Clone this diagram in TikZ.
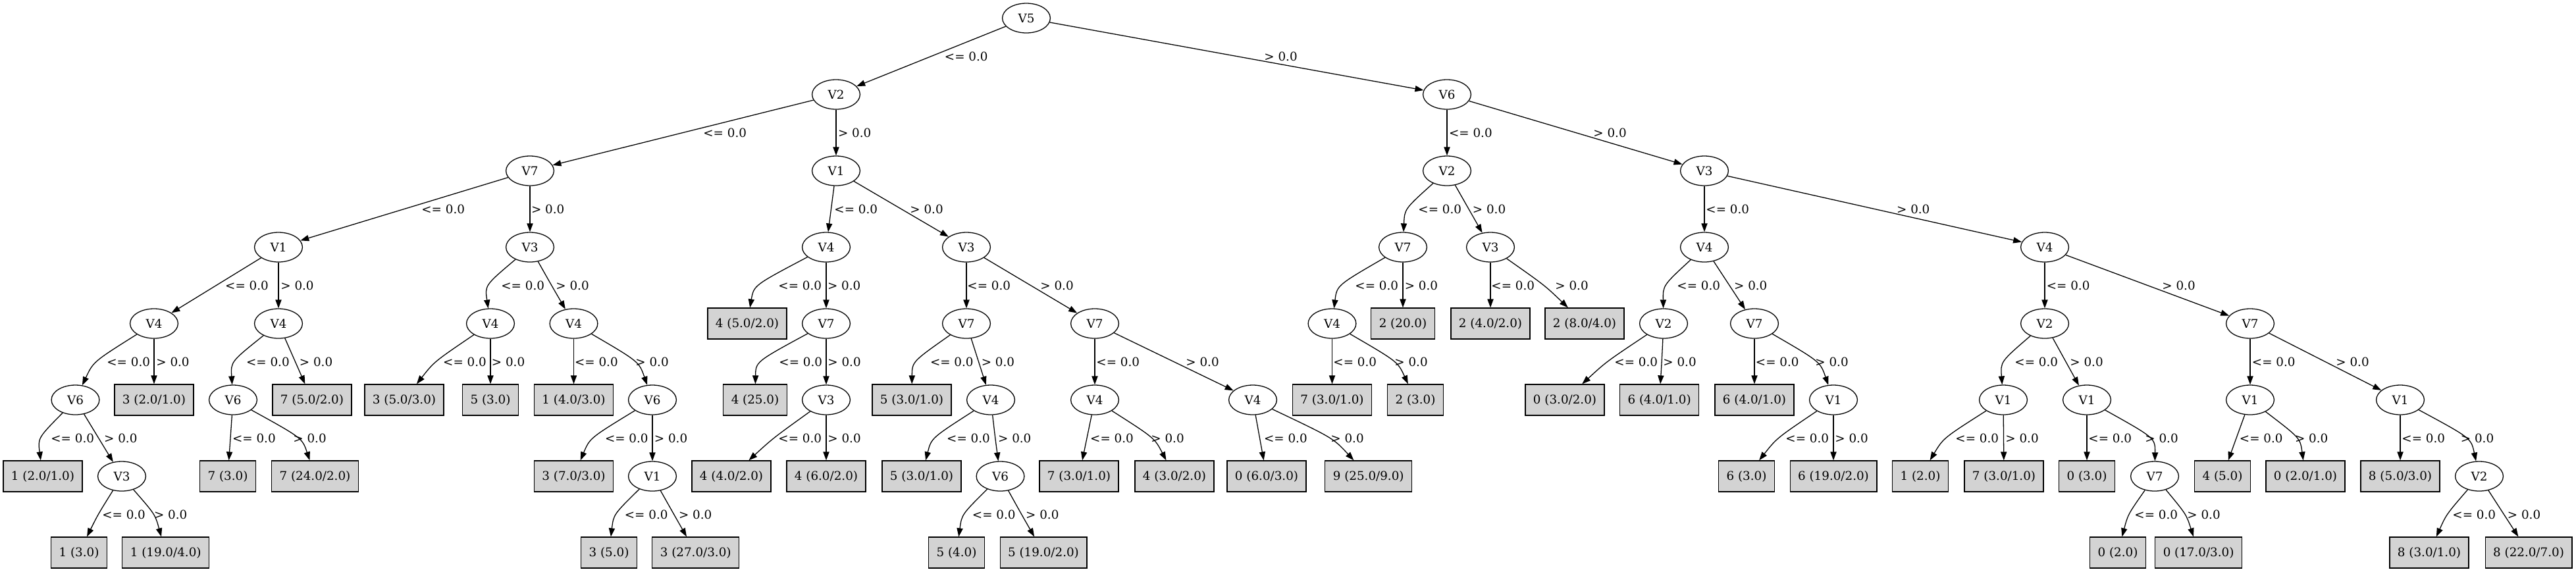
\documentclass[tikz,border=0pt]{standalone}
\usepackage{fontspec}
\setmainfont{DejaVu Serif}
\usetikzlibrary{arrows.meta,calc,shapes}
\definecolor{leafgray}{RGB}{211,211,211}
\tikzstyle{test}=[ellipse,draw=black,fill=white,line width=0.64pt,minimum width=36.4pt,minimum height=22.5pt,inner sep=0pt]
\tikzstyle{leaf}=[rectangle,draw=black,fill=leafgray,line width=0.64pt,minimum height=23.5pt,inner xsep=6pt,inner ysep=0pt]
\tikzstyle{branch}=[draw,line width=0.64pt,-{Triangle[length=6.5pt,width=4.6pt]}]
\tikzstyle{cond}=[anchor=west,inner sep=0pt]

\begin{document}
\begin{tikzpicture}[x=0.5pt,y=-58pt,font=\fontsize{9.15}{11}\selectfont]
    \useasboundingbox (0,-0.2371) rectangle (3913,7.2716);

    % attribute tests
    \foreach \pos/\name/\label in {{(1559,0)/root/V5}, {(1270,1)/L/V2}, {(2198,1)/R/V6},
        {(805,2)/LL/V7}, {(1270,2)/LR/V1}, {(2198,2)/RL/V2}, {(2589,2)/RR/V3},
        {(423,3)/LLL/V1}, {(805,3)/LLR/V3}, {(1255,3)/LRL/V4}, {(1468,3)/LRR/V3}, {(2131,3)/RLL/V7}, {(2264,3)/RLR/V3}, {(2589,3)/RRL/V4}, {(3106,3)/RRR/V4},
        {(234,4)/LLLL/V4}, {(423,4)/LLLR/V4}, {(745,4)/LLRL/V4}, {(871.5,4)/LLRR/V4}, {(1255,4)/LRLR/V7}, {(1468,4)/LRRL/V7}, {(1663,4)/LRRR/V7}, {(2023.5,4)/RLLL/V4}, {(2527,4)/RRLL/V2}, {(2665,4)/RRLR/V7}, {(3106,4)/RRRL/V2}, {(3418,4)/RRRR/V7},
        {(114.5,5)/LLLLL/V6}, {(354,5)/LLLRL/V6}, {(991,5)/LLRRR/V6}, {(1255,5)/LRLRR/V3}, {(1505,5)/LRRLR/V4}, {(1663,5)/LRRRL/V4}, {(1903,5)/LRRRR/V4}, {(2785,5)/RRLRR/V1}, {(3043,5)/RRRLL/V1}, {(3170,5)/RRRLR/V1}, {(3418,5)/RRRRL/V1}, {(3646,5)/RRRRR/V1},
        {(185,6)/LLLLLR/V3}, {(991,6)/LLRRRR/V1}, {(1519.5,6)/LRRLRR/V6}, {(3273,6)/RRRLRR/V7}, {(3766,6)/RRRRRR/V2}}
        \node[test] (\name) at \pos {\label};

    % class leaves
    \foreach \pos/\name/\label in {{(1135,4)/LRLL/{4 (5.0/2.0)}}, {(2131,4)/RLLR/{2 (20.0)}}, {(2264,4)/RLRL/{2 (4.0/2.0)}}, {(2407,4)/RLRR/{2 (8.0/4.0)}},
        {(234,5)/LLLLR/{3 (2.0/1.0)}}, {(474,5)/LLLRR/{7 (5.0/2.0)}}, {(614,5)/LLRLL/{3 (5.0/3.0)}}, {(745,5)/LLRLR/{5 (3.0)}}, {(871.5,5)/LLRRL/{1 (4.0/3.0)}}, {(1147,5)/LRLRL/{4 (25.0)}}, {(1385,5)/LRRLL/{5 (3.0/1.0)}}, {(2023.5,5)/RLLLL/{7 (3.0/1.0)}}, {(2150,5)/RLLLR/{2 (3.0)}}, {(2377,5)/RRLLL/{0 (3.0/2.0)}}, {(2520.6,5)/RRLLR/{6 (4.0/1.0)}}, {(2665,5)/RRLRL/{6 (4.0/1.0)}},
        {(65,6)/LLLLLL/{1 (2.0/1.0)}}, {(346,6)/LLLRLL/{7 (3.0)}}, {(478.5,6)/LLLRLR/{7 (24.0/2.0)}}, {(871.5,6)/LLRRRL/{3 (7.0/3.0)}}, {(1111,6)/LRLRRL/{4 (4.0/2.0)}}, {(1255,6)/LRLRRR/{4 (6.0/2.0)}}, {(1400,6)/LRRLRL/{5 (3.0/1.0)}}, {(1639,6)/LRRRLL/{7 (3.0/1.0)}}, {(1784,6)/LRRRLR/{4 (3.0/2.0)}}, {(1924,6)/LRRRRL/{0 (6.0/3.0)}}, {(2078.7,6)/LRRRRR/{9 (25.0/9.0)}}, {(2653,6)/RRLRRL/{6 (3.0)}}, {(2785,6)/RRLRRR/{6 (19.0/2.0)}}, {(2917,6)/RRRLLL/{1 (2.0)}}, {(3044,6)/RRRLLR/{7 (3.0/1.0)}}, {(3170,6)/RRRLRL/{0 (3.0)}}, {(3376,6)/RRRRLL/{4 (5.0)}}, {(3502,6)/RRRRLR/{0 (2.0/1.0)}}, {(3646,6)/RRRRRL/{8 (5.0/3.0)}},
        {(120,7)/LLLLLRL/{1 (3.0)}}, {(251.7,7)/LLLLLRR/{1 (19.0/4.0)}}, {(925,7)/LLRRRRL/{3 (5.0)}}, {(1056.7,7)/LLRRRRR/{3 (27.0/3.0)}}, {(1453,7)/LRRLRRL/{5 (4.0)}}, {(1585,7)/LRRLRRR/{5 (19.0/2.0)}}, {(3217,7)/RRRLRRL/{0 (2.0)}}, {(3339.6,7)/RRRLRRR/{0 (17.0/3.0)}}, {(3690,7)/RRRRRRL/{8 (3.0/1.0)}}, {(3841,7)/RRRRRRR/{8 (22.0/7.0)}}}
        \node[leaf] (\name) at \pos {\label};

    % branches: source/dest/x where the branch crosses mid rank/mid rank/label x/label
    \foreach \source/\dest/\mx/\my/\lx/\cond in {root/L/1414.5/0.5/1434.5/{<= 0.0}, root/R/1878.5/0.5/1920/{> 0.0},
        L/LL/1037.5/1.5/1068/{<= 0.0}, L/LR/1270/1.5/1272.6/{> 0.0}, R/RL/2198/1.5/2200.7/{<= 0.0}, R/RR/2393.5/1.5/2420/{> 0.0},
        LL/LLL/614/2.5/640/{<= 0.0}, LL/LLR/805/2.5/806.7/{> 0.0}, LR/LRL/1262.5/2.5/1267/{<= 0.0}, LR/LRR/1369/2.5/1382/{> 0.0},
        RL/RLL/2149/2.5/2154/{<= 0.0}, RL/RLR/2231/2.5/2236.5/{> 0.0}, RR/RRL/2589/2.5/2591/{<= 0.0}, RR/RRR/2847.5/2.5/2880.7/{> 0.0},
        LLL/LLLL/328.5/3.5/341.8/{<= 0.0}, LLL/LLLR/423/3.5/426/{> 0.0}, LLR/LLRL/755.7/3.5/761/{<= 0.0}, LLR/LLRR/838/3.5/844/{> 0.0},
        LRL/LRLL/1170/3.5/1182/{<= 0.0}, LRL/LRLR/1255/3.5/1256.6/{> 0.0}, LRR/LRRL/1468/3.5/1469/{<= 0.0}, LRR/LRRR/1565.5/3.5/1580/{> 0.0},
        RLL/RLLL/2054/3.5/2058/{<= 0.0}, RLL/RLLR/2131/3.5/2133.4/{> 0.0}, RLR/RLRL/2264/3.5/2265/{<= 0.0}, RLR/RLRR/2341/3.5/2362/{> 0.0},
        RRL/RRLL/2542/3.5/2547/{<= 0.0}, RRL/RRLR/2627/3.5/2633.7/{> 0.0}, RRR/RRRL/3106/3.5/3108.4/{<= 0.0}, RRR/RRRR/3262/3.5/3284/{> 0.0},
        LLLL/LLLLL/158/4.5/162/{<= 0.0}, LLLL/LLLLR/234/4.5/237/{> 0.0}, LLLR/LLLRL/369.5/4.5/373.7/{<= 0.0}, LLLR/LLLRR/448.5/4.5/454.5/{> 0.0},
        LLRL/LLRLL/669.5/4.5/672.8/{<= 0.0}, LLRL/LLRLR/745/4.5/746.5/{> 0.0}, LLRR/LLRRL/871.5/4.5/872.7/{<= 0.0}, LLRR/LLRRR/951/4.5/965/{> 0.0},
        LRLR/LRLRL/1174.5/4.5/1183/{<= 0.0}, LRLR/LRLRR/1255/4.5/1257/{> 0.0}, LRRL/LRRLL/1406/4.5/1412.6/{<= 0.0}, LRRL/LRRLR/1486.5/4.5/1490.4/{> 0.0},
        LRRR/LRRRL/1663/4.5/1665/{<= 0.0}, LRRR/LRRRR/1783/4.5/1801/{> 0.0}, RLLL/RLLLL/2023.5/4.5/2025/{<= 0.0}, RLLL/RLLLR/2105/4.5/2118/{> 0.0},
        RRLL/RRLLL/2446/4.5/2452/{<= 0.0}, RRLL/RRLLR/2524/4.5/2526/{> 0.0}, RRLR/RRLRL/2665/4.5/2666.5/{<= 0.0}, RRLR/RRLRR/2745/4.5/2757/{> 0.0},
        RRRL/RRRLL/3056.6/4.5/3060/{<= 0.0}, RRRL/RRRLR/3138/4.5/3144/{> 0.0}, RRRR/RRRRL/3418/4.5/3420.5/{<= 0.0}, RRRR/RRRRR/3532/4.5/3548/{> 0.0},
        LLLLL/LLLLLL/73.6/5.5/77/{<= 0.0}, LLLLL/LLLLLR/149.75/5.5/157.8/{> 0.0}, LLLRL/LLLRLL/350/5.5/352.7/{<= 0.0}, LLLRL/LLLRLR/437.7/5.5/445/{> 0.0},
        LLRRR/LLRRRL/913.6/5.5/918.6/{<= 0.0}, LLRRR/LLRRRR/991/5.5/993.5/{> 0.0}, LRLRR/LRLRRL/1178.7/5.5/1182/{<= 0.0}, LRLRR/LRLRRR/1255/5.5/1257/{> 0.0},
        LRRLR/LRRLRL/1433.6/5.5/1437.8/{<= 0.0}, LRRLR/LRRLRR/1512/5.5/1515.7/{> 0.0}, LRRRL/LRRRLL/1651/5.5/1655.8/{<= 0.0}, LRRRL/LRRRLR/1738.7/5.5/1748/{> 0.0},
        LRRRR/LRRRRL/1913.5/5.5/1919.7/{<= 0.0}, LRRRR/LRRRRR/2008/5.5/2021/{> 0.0}, RRLRR/RRLRRL/2709/5.5/2712/{<= 0.0}, RRLRR/RRLRRR/2785/5.5/2787/{> 0.0},
        RRRLL/RRRLLL/2966/5.5/2970/{<= 0.0}, RRRLL/RRRLLR/3043.5/5.5/3046/{> 0.0}, RRRLR/RRRLRL/3170/5.5/3172/{<= 0.0}, RRRLR/RRRLRR/3247.7/5.5/3258/{> 0.0},
        RRRRL/RRRRLL/3397/5.5/3401.5/{<= 0.0}, RRRRL/RRRRLR/3477/5.5/3485.6/{> 0.0}, RRRRR/RRRRRL/3646/5.5/3648/{<= 0.0}, RRRRR/RRRRRR/3729.8/5.5/3737.5/{> 0.0},
        LLLLLR/LLLLLRL/150.7/6.5/154.9/{<= 0.0}, LLLLLR/LLLLLRR/227/6.5/233.6/{> 0.0}, LLRRRR/LLRRRRL/945/6.5/948.5/{<= 0.0}, LLRRRR/LLRRRRR/1023.8/6.5/1030.6/{> 0.0},
        LRRLRR/LRRLRRL/1473.6/6.5/1476.5/{<= 0.0}, LRRLRR/LRRLRRR/1552/6.5/1557.8/{> 0.0}, RRRLRR/RRRLRRL/3238.7/6.5/3242/{<= 0.0}, RRRLRR/RRRLRRR/3313.7/6.5/3322/{> 0.0},
        RRRRRR/RRRRRRL/3722/6.5/3725/{<= 0.0}, RRRRRR/RRRRRRR/3803.5/6.5/3808.5/{> 0.0}}
    {
        \path[branch] (\source) .. controls ($2*(\mx,\my)-0.5*(\source)-0.5*(\dest)$) .. (\dest);
        \node[cond] (c\dest) at (\lx,\my) {\cond};
    }
\end{tikzpicture}
\end{document}
